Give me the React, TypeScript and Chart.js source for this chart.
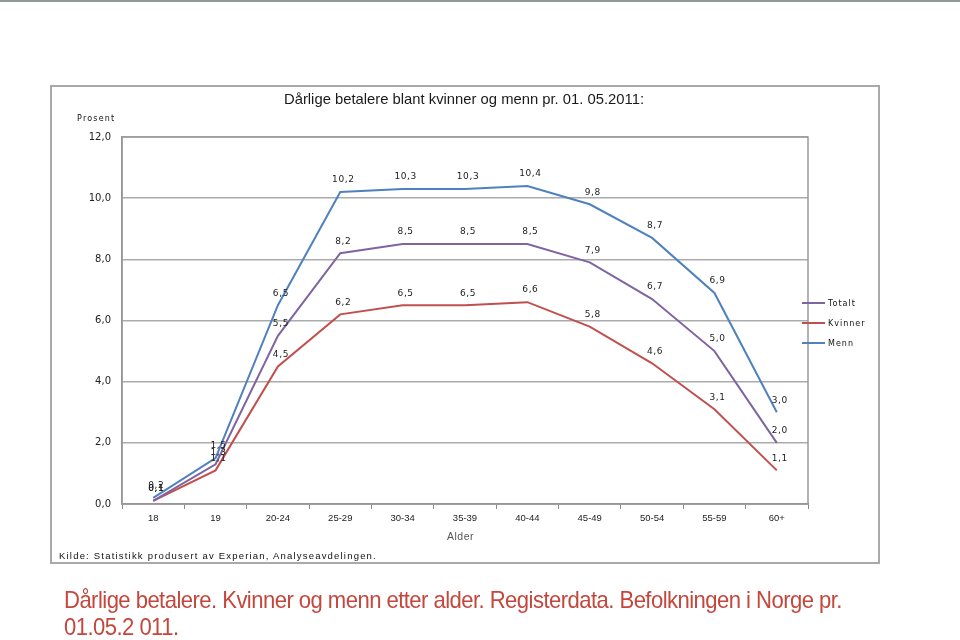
import React, { useEffect, useRef } from 'react';
import { Chart, registerables } from 'chart.js';

Chart.register(...registerables);

const categories = ['18', '19', '20-24', '25-29', '30-34', '35-39', '40-44', '45-49', '50-54', '55-59', '60+'];
const totalt = [0.1, 1.3, 5.5, 8.2, 8.5, 8.5, 8.5, 7.9, 6.7, 5.0, 2.0];
const kvinner = [0.1, 1.1, 4.5, 6.2, 6.5, 6.5, 6.6, 5.8, 4.6, 3.1, 1.1];
const menn = [0.2, 1.5, 6.5, 10.2, 10.3, 10.3, 10.4, 9.8, 8.7, 6.9, 3.0];
const seriesNames = ['Totalt', 'Kvinner', 'Menn'];
const seriesColors = ['#8064A2', '#C0504D', '#4F81BD'];

const fmt = (v: number) => v.toFixed(1).replace('.', ',');

const plotBorder = {
  id: 'plotBorder',
  beforeDatasetsDraw(chart: any) {
    const { ctx, chartArea } = chart;
    ctx.save();
    ctx.strokeStyle = '#9a9a9a';
    ctx.lineWidth = 1.5;
    ctx.strokeRect(chartArea.left, chartArea.top, chartArea.right - chartArea.left, chartArea.bottom - chartArea.top);
    ctx.restore();
  },
};

const dataLabels = {
  id: 'dataLabels',
  afterDatasetsDraw(chart: any) {
    const ctx = chart.ctx;
    ctx.save();
    ctx.font = '9px "DejaVu Sans"';
    ctx.letterSpacing = '0.6px';
    ctx.fillStyle = '#222';
    ctx.textAlign = 'center';
    ctx.textBaseline = 'middle';
    chart.data.datasets.forEach((ds: any, i: number) => {
      const meta = chart.getDatasetMeta(i);
      meta.data.forEach((pt: any, j: number) => {
        ctx.fillText(fmt(ds.data[j]), pt.x + 3, pt.y - 12);
      });
    });
    ctx.restore();
  },
};

const customLegend = {
  id: 'customLegend',
  afterDraw(chart: any) {
    const ctx = chart.ctx;
    const right = chart.chartArea.right;
    ctx.save();
    ctx.font = '8px "DejaVu Sans"';
    ctx.letterSpacing = '1px';
    ctx.textAlign = 'left';
    ctx.textBaseline = 'middle';
    chart.data.datasets.forEach((ds: any, i: number) => {
      const y = 303 + i * 20;
      ctx.strokeStyle = ds.borderColor;
      ctx.lineWidth = 2;
      ctx.beginPath();
      ctx.moveTo(right - 6, y);
      ctx.lineTo(right + 17, y);
      ctx.stroke();
      ctx.fillStyle = '#111';
      ctx.fillText(ds.label, right + 20, y + 1);
    });
    ctx.restore();
  },
};

export default function App() {
  const ref = useRef<HTMLCanvasElement>(null);

  useEffect(() => {
    if (!ref.current) return;
    const datasets = [totalt, kvinner, menn].map((d, i) => ({
      label: seriesNames[i],
      data: d,
      borderColor: seriesColors[i],
      backgroundColor: seriesColors[i],
      borderWidth: 2,
      pointRadius: 0,
      tension: 0,
      fill: false,
    }));
    const chart = new Chart(ref.current, {
      type: 'line',
      data: { labels: categories, datasets },
      options: {
        animation: false,
        responsive: false,
        layout: { padding: { left: 82, right: 152, top: 137, bottom: 106 } },
        plugins: { legend: { display: false }, title: { display: false }, tooltip: { enabled: false } },
        scales: {
          x: {
            offset: true,
            afterFit: (s: any) => { s.height = 30; },
            grid: { offset: true, drawOnChartArea: false, drawTicks: true, tickLength: 5, color: '#8a8a8a', lineWidth: 1 },
            border: { color: '#8a8a8a', width: 1.5 },
            ticks: { color: '#222', font: { family: 'Liberation Sans', size: 9.5 }, padding: 4, maxRotation: 0, autoSkip: false },
          },
          y: {
            min: 0,
            max: 12,
            afterFit: (s: any) => { s.width = 40; },
            grid: { color: '#ababab', lineWidth: 1.5, drawTicks: false },
            border: { color: '#8a8a8a', width: 1.5 },
            ticks: {
              stepSize: 2,
              color: '#222',
              font: { family: 'DejaVu Sans', size: 10 },
              padding: 11,
              callback: (v: any) => fmt(Number(v)),
            },
          },
        },
      },
      plugins: [plotBorder, dataLabels, customLegend],
    });
    return () => chart.destroy();
  }, []);

  const txt: React.CSSProperties = { position: 'absolute', whiteSpace: 'nowrap', fontFamily: '"Liberation Sans", Arial, sans-serif' };

  return (
    <div style={{ position: 'absolute', left: 0, top: 0, width: 960, height: 640, background: '#fff', overflow: 'hidden' }}>
      <div style={{ position: 'absolute', left: 0, top: 0, width: 960, height: 2, background: '#8d9a93' }} />
      <div style={{ position: 'absolute', left: 50, top: 85, width: 826, height: 475, border: '2px solid #a9a9a9' }} />
      <canvas ref={ref} width={960} height={640} style={{ position: 'absolute', left: 0, top: 0, width: 960, height: 640 }} />
      <div style={{ ...txt, left: 0, width: 928, top: 91, textAlign: 'center', fontSize: 14.8, color: '#1a1a1a' }}>
        Dårlige betalere blant kvinner og menn pr. 01. 05.2011:
      </div>
      <div style={{ ...txt, left: 77, top: 114, fontSize: 8, letterSpacing: '1.2px', fontFamily: '"DejaVu Sans", sans-serif', color: '#111' }}>Prosent</div>
      <div style={{ ...txt, left: 447, top: 530, fontSize: 10.5, letterSpacing: '0.5px', color: '#555' }}>Alder</div>
      <div style={{ ...txt, left: 59, top: 550, fontSize: 9.5, letterSpacing: '1.2px', color: '#111', fontFamily: '"Liberation Sans", sans-serif' }}>
        Kilde: Statistikk produsert av Experian, Analyseavdelingen.
      </div>
      <div style={{ ...txt, left: 64, top: 586, fontSize: 24, lineHeight: '27px', color: '#c4473d', transform: 'scaleX(0.92)', transformOrigin: 'left top', letterSpacing: '-0.6px' }}>
        Dårlige betalere. Kvinner og menn etter alder. Registerdata. Befolkningen i Norge pr.
        <br />
        01.05.2 011.
      </div>
    </div>
  );
}
